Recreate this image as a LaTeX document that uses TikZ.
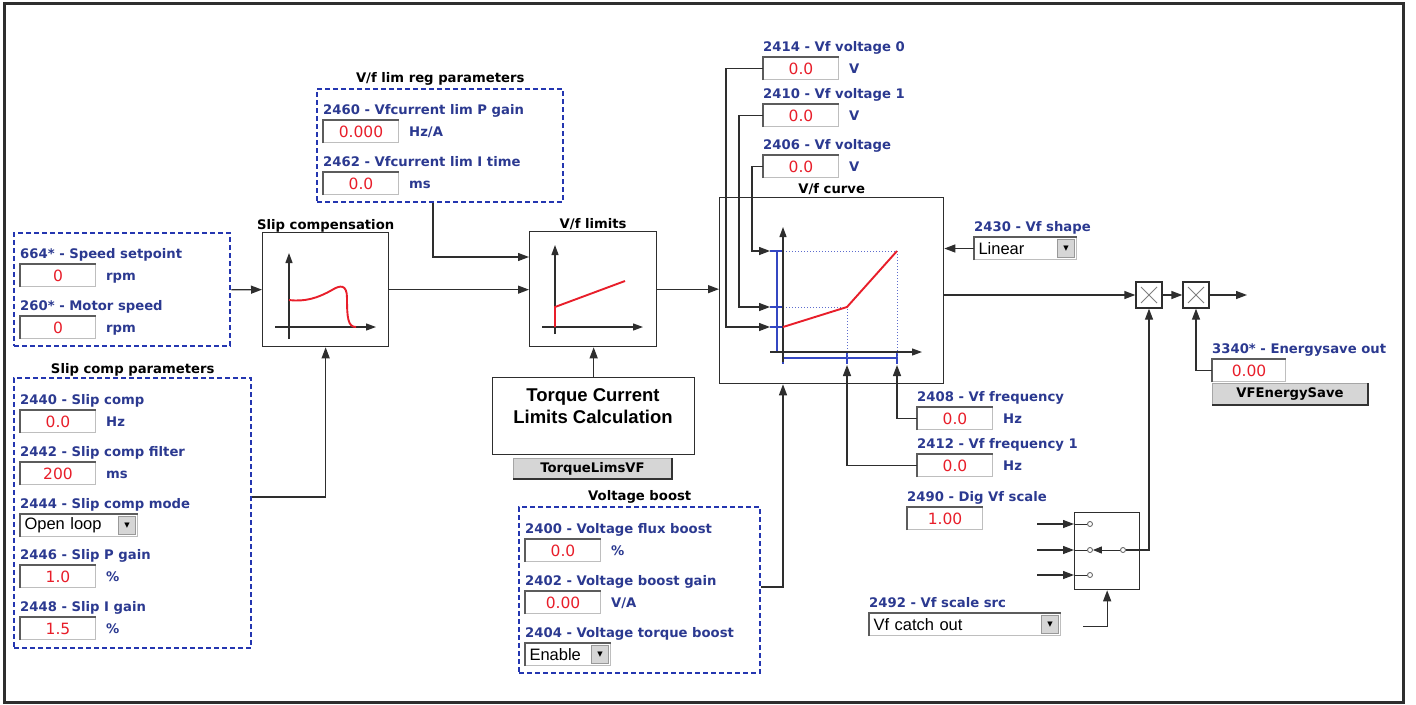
\documentclass[tikz,border=0pt]{standalone}
\usepackage{fontspec}
\setmainfont{DejaVu Sans}
\newfontfamily\ddfont{Liberation Sans}
\usetikzlibrary{arrows.meta}
\definecolor{ink}{HTML}{2E2E2E}
\definecolor{navy}{HTML}{2B3990}
\definecolor{dashblue}{HTML}{2436B0}
\definecolor{valred}{HTML}{E81E2A}
\definecolor{plotblue}{HTML}{3447C2}
\definecolor{fieldline}{HTML}{BEBEBE}
\definecolor{insetgray}{HTML}{5C5C5C}
\definecolor{btnfill}{HTML}{D6D6D6}
\newcommand{\lblsize}{\fontsize{13.2}{15}\selectfont}
\newcommand{\valsize}{\fontsize{15.5}{17}\selectfont}
\newcommand{\ddsize}{\fontsize{16.5}{18}\selectfont}
\tikzset{
  lbl/.style={font=\lblsize\bfseries,text=navy,anchor=base west,inner sep=0pt},
  ttl/.style={font=\lblsize\bfseries,text=black,anchor=base,inner sep=0pt},
  field/.style={draw=fieldline,fill=white,line width=1pt,minimum width=75pt,minimum height=22pt,inner sep=0pt,anchor=north west,font=\valsize,text=valred},
  drop/.style={field,text=black,font=\ddfont\ddsize,inner xsep=4pt,align=left},
  ddbtn/.style={draw=gray!80,fill=btnfill,line width=0.8pt,minimum width=17pt,minimum height=18pt,inner sep=0pt,anchor=east,font=\fontsize{7}{7}\selectfont},
  insetline/.style={draw=insetgray,line width=1.6pt},
  raiseline/.style={draw=gray!40!black,line width=1.6pt},
  dbox/.style={draw=dashblue,line width=2.4pt,dash pattern=on 5pt off 3pt,anchor=north west,inner sep=0pt},
  blk/.style={draw=ink,line width=1.3pt,fill=white,anchor=north west,inner sep=0pt},
  btn/.style={draw=gray!70,fill=btnfill,line width=1pt,anchor=north west,inner sep=0pt,font=\lblsize\bfseries},
  mult/.style={draw=ink,line width=1.3pt,fill=white,minimum size=26pt,inner sep=0pt},
  swpin/.style={circle,draw=ink!80,fill=white,line width=0.8pt,minimum size=5pt,inner sep=0pt},
  arr/.style={-{Triangle[length=11pt,width=8pt]},line width=1.3pt,draw=ink},
  wire/.style={line width=1.3pt,draw=ink},
  plotaxis/.style={-{Triangle[length=10pt,width=7pt]},line width=1.2pt,draw=ink},
  redcurve/.style={draw=valred,line width=1.9pt},
  blueline/.style={draw=plotblue,line width=2.6pt},
  guide/.style={draw=plotblue!80,line width=1pt,dotted}
}
\begin{document}
\begin{tikzpicture}[x=1pt,y=-1pt]
  \useasboundingbox (0,0) rectangle (1416,704);
  \draw[draw=ink,line width=3pt] (4.5,3.5) rectangle (1403.5,702);

  % speed inputs
  \node[dbox,minimum width=216pt,minimum height=113pt] (spd) at (13,232) {};
  \node[field] (ssp) at (20,264) {0};
  \node[lbl] (sspl) at ([yshift=6pt]ssp.north west) {664* - Speed setpoint};
  \node[lbl] (sspu) at ([xshift=10pt,yshift=-5pt]ssp.east) {rpm};
  \node[field] (msp) at (20,316) {0};
  \node[lbl] (mspl) at ([yshift=6pt]msp.north west) {260* - Motor speed};
  \node[lbl] (mspu) at ([xshift=10pt,yshift=-5pt]msp.east) {rpm};

  % slip comp parameters
  \node[dbox,minimum width=237pt,minimum height=270pt] (scp) at (13,377) {};
  \node[ttl] (scpt) at ([yshift=4pt]scp.north) {Slip comp parameters};
  \node[field] (slc) at (20,410) {0.0};
  \node[lbl] (slcl) at ([yshift=6pt]slc.north west) {2440 - Slip comp};
  \node[lbl] (slcu) at ([xshift=10pt,yshift=-5pt]slc.east) {Hz};
  \node[field] (slf) at (20,462) {200};
  \node[lbl] (slfl) at ([yshift=6pt]slf.north west) {2442 - Slip comp filter};
  \node[lbl] (slfu) at ([xshift=10pt,yshift=-5pt]slf.east) {ms};
  \node[drop,text width=109pt] (slm) at (20,514) {Open loop};
  \node[lbl] (slml) at ([yshift=6pt]slm.north west) {2444 - Slip comp mode};
  \node[field] (spg) at (20,565) {1.0};
  \node[lbl] (spgl) at ([yshift=6pt]spg.north west) {2446 - Slip P gain};
  \node[lbl] (spgu) at ([xshift=10pt,yshift=-5pt]spg.east) {\%};
  \node[field] (sig) at (20,617) {1.5};
  \node[lbl] (sigl) at ([yshift=6pt]sig.north west) {2448 - Slip I gain};
  \node[lbl] (sigu) at ([xshift=10pt,yshift=-5pt]sig.east) {\%};

  % V/f lim reg parameters
  \node[dbox,minimum width=246pt,minimum height=113pt] (lrp) at (316,88) {};
  \node[ttl] (lrpt) at ([yshift=6pt]lrp.north) {V/f lim reg parameters};
  \node[field] (lpg) at (323,120) {0.000};
  \node[lbl] (lpgl) at ([yshift=6pt]lpg.north west) {2460 - Vfcurrent lim P gain};
  \node[lbl] (lpgu) at ([xshift=10pt,yshift=-5pt]lpg.east) {Hz/A};
  \node[field] (lit) at (323,172) {0.0};
  \node[lbl] (litl) at ([yshift=6pt]lit.north west) {2462 - Vfcurrent lim I time};
  \node[lbl] (litu) at ([xshift=10pt,yshift=-5pt]lit.east) {ms};

  % voltage boost
  \node[dbox,minimum width=241pt,minimum height=166pt] (vbp) at (518,506) {};
  \node[ttl] (vbpt) at ([yshift=6pt]vbp.north) {Voltage boost};
  \node[field] (vfb) at (525,539) {0.0};
  \node[lbl] (vfbl) at ([yshift=6pt]vfb.north west) {2400 - Voltage flux boost};
  \node[lbl] (vfbu) at ([xshift=10pt,yshift=-5pt]vfb.east) {\%};
  \node[field] (vbg) at (525,591) {0.00};
  \node[lbl] (vbgl) at ([yshift=6pt]vbg.north west) {2402 - Voltage boost gain};
  \node[lbl] (vbgu) at ([xshift=10pt,yshift=-5pt]vbg.east) {V/A};
  \node[drop,text width=77pt] (vtb) at (525,643) {Enable};
  \node[lbl] (vtbl) at ([yshift=6pt]vtb.north west) {2404 - Voltage torque boost};

  % blocks
  \node[blk,minimum width=126pt,minimum height=114pt] (slip) at (262,232) {};
  \node[ttl] (slipt) at ([yshift=3pt]slip.north) {Slip compensation};
  \node[blk,minimum width=127pt,minimum height=115pt] (vfl) at (529,231) {};
  \node[ttl] (vflt) at ([yshift=3pt]vfl.north) {V/f limits};
  \node[blk,minimum width=202pt,minimum height=77pt] (tqc) at (492,377) {};
  \node[font=\ddfont\bfseries\fontsize{18.5}{22}\selectfont,align=center,inner sep=0pt] (tqct) at (593,406) {Torque Current\\Limits Calculation};
  \node[btn,minimum width=158pt,minimum height=20pt] (tlv) at (513,458) {TorqueLimsVF};
  \node[blk,minimum width=224pt,minimum height=186pt] (vfc) at (719,197) {};
  \node[ttl] (vfct) at ([yshift=4pt]vfc.north) {V/f curve};

  % V/f curve parameters
  \node[field] (vv0) at (763,57) {0.0};
  \node[lbl] (vv0l) at ([yshift=6pt]vv0.north west) {2414 - Vf voltage 0};
  \node[lbl] (vv0u) at ([xshift=10pt,yshift=-5pt]vv0.east) {V};
  \node[field] (vv1) at (763,104) {0.0};
  \node[lbl] (vv1l) at ([yshift=6pt]vv1.north west) {2410 - Vf voltage 1};
  \node[lbl] (vv1u) at ([xshift=10pt,yshift=-5pt]vv1.east) {V};
  \node[field] (vv2) at (763,155) {0.0};
  \node[lbl] (vv2l) at ([yshift=6pt]vv2.north west) {2406 - Vf voltage};
  \node[lbl] (vv2u) at ([xshift=10pt,yshift=-5pt]vv2.east) {V};
  \node[drop,text width=94pt] (vsh) at (974,237) {Linear};
  \node[lbl] (vshl) at ([yshift=6pt]vsh.north west) {2430 - Vf shape};
  \node[field] (vf0) at (917,407) {0.0};
  \node[lbl] (vf0l) at ([yshift=6pt]vf0.north west) {2408 - Vf frequency};
  \node[lbl] (vf0u) at ([xshift=10pt,yshift=-5pt]vf0.east) {Hz};
  \node[field] (vf1) at (917,454) {0.0};
  \node[lbl] (vf1l) at ([yshift=6pt]vf1.north west) {2412 - Vf frequency 1};
  \node[lbl] (vf1u) at ([xshift=10pt,yshift=-5pt]vf1.east) {Hz};
  \node[field] (dvs) at (907,507) {1.00};
  \node[lbl] (dvsl) at ([yshift=6pt]dvs.north west) {2490 - Dig Vf scale};
  \node[drop,text width=183pt] (vss) at (869,613) {Vf catch out};
  \node[lbl] (vssl) at ([yshift=6pt]vss.north west) {2492 - Vf scale src};

  % output stage
  \node[mult] (mul1) at (1149,295) {};
  \node[mult] (mul2) at (1196,295) {};
  \node[field,minimum width=73pt] (eso) at (1212,359) {0.00};
  \node[lbl] (esol) at ([yshift=6pt]eso.north west) {3340* - Energysave out};
  \node[btn,minimum width=155pt,minimum height=21pt] (esv) at (1212,383) {VFEnergySave};
  \node[blk,minimum width=65pt,minimum height=77pt] (swb) at (1074,512) {};
  \node[swpin] (si1) at (1090,524) {};
  \node[swpin] (si2) at (1090,550) {};
  \node[swpin] (si3) at (1090,575) {};
  \node[swpin] (so) at (1123,550) {};

  \foreach \f in {ssp,msp,slc,slf,slm,spg,sig,lpg,lit,vfb,vbg,vtb,vv0,vv1,vv2,vsh,vf0,vf1,dvs,vss,eso}
    \draw[insetline] (\f.south west) |- (\f.north east);
  \foreach \d in {slm,vtb,vsh,vss}
    \node[ddbtn] (\d b) at ([xshift=-2pt]\d.east) {▼};
  \foreach \b in {tlv,esv}
    \draw[raiseline] (\b.south west) -| (\b.north east);
  \foreach \m in {mul1,mul2}
    \draw[draw=gray,line width=1pt] ([shift={(-8pt,-8pt)}]\m.center) -- ([shift={(8pt,8pt)}]\m.center)
      ([shift={(-8pt,8pt)}]\m.center) -- ([shift={(8pt,-8pt)}]\m.center);

  % small plots
  \draw[plotaxis] (289,339) -- (289,253);
  \draw[plotaxis] (275,327) -- (376,327);
  \draw[redcurve] (289,300) .. controls (305,302) and (318,298) .. (332,290)
    .. controls (340,285) and (347,284) .. (347,298) .. controls (347,318) and (348,327) .. (356,327);
  \draw[plotaxis] (555,334) -- (555,245);
  \draw[plotaxis] (542,327) -- (643,327);
  \draw[redcurve] (555,327) -- (555,307) -- (625,281);

  \draw[blueline] (777,251) -- (777,352);
  \foreach \y in {251,307,327,352} \draw[blueline] (770,\y) -- (783,\y);
  \draw[blueline] (783,358) -- (897,358);
  \foreach \x in {783,847,897} \draw[blueline] (\x,352) -- (\x,364);
  \draw[guide] (783,251) -- (897,251) -- (897,358);
  \draw[guide] (783,307) -- (847,307) -- (847,358);
  \draw[plotaxis] (783,362) -- (783,227);
  \draw[plotaxis] (770,352) -- (922,352);
  \draw[redcurve] (783,327) -- (847,307) -- (897,251);

  % connectors
  \coordinate (in0) at (770,327);
  \coordinate (in1) at (770,307);
  \coordinate (in2) at (770,251);
  \coordinate (fq0) at (897,365);
  \coordinate (fq1) at (847,365);
  \coordinate (vout) at (1247,295);
  \draw[arr] (spd.east) -- (slip.west);
  \draw[arr] (scp.east |- 0,497) -| (slip.south);
  \draw[arr] (slip.east) -- (slip.east -| vfl.west);
  \draw[arr] (lrp.south -| 433,0) |- (vfl.west |- 0,257);
  \draw[arr] (tqc.north) -- (tqc.north |- vfl.south);
  \draw[arr] (vfl.east) -- (vfl.east -| vfc.west);
  \draw[arr] (vbp.east |- 0,587) -| (vfc.south -| 783,0);
  \draw[arr] (vv0.west) -- ++(-37,0) |- (in0);
  \draw[arr] (vv1.west) -- ++(-24,0) |- (in1);
  \draw[arr] (vv2.west) -- ++(-11,0) |- (in2);
  \draw[arr] (vf0.west) -| (fq0);
  \draw[arr] (vf1.west) -| (fq1);
  \draw[arr] (vsh.west) -- (vsh.west -| vfc.east);
  \draw[arr] (vfc.east |- mul1.west) -- (mul1.west);
  \draw[arr] (mul1.east) -- (mul2.west);
  \draw[arr] (mul2.east) -- (vout);
  \draw[arr] (eso.west) -| (mul2.south);
  \foreach \p in {si1,si2,si3} {
    \draw[arr] (\p -| 1037,0) -- (\p -| swb.west);
    \draw[wire,line width=1pt] (\p -| swb.west) -- (\p);
  }
  \draw[arr,-{Triangle[length=9pt,width=7pt]},line width=1pt] (so) -- (si2);
  \draw[arr] (so) -| (mul1.south);
  \draw[arr] ([xshift=22pt,yshift=-2pt]vss.east) -| (swb.south);
\end{tikzpicture}
\end{document}
